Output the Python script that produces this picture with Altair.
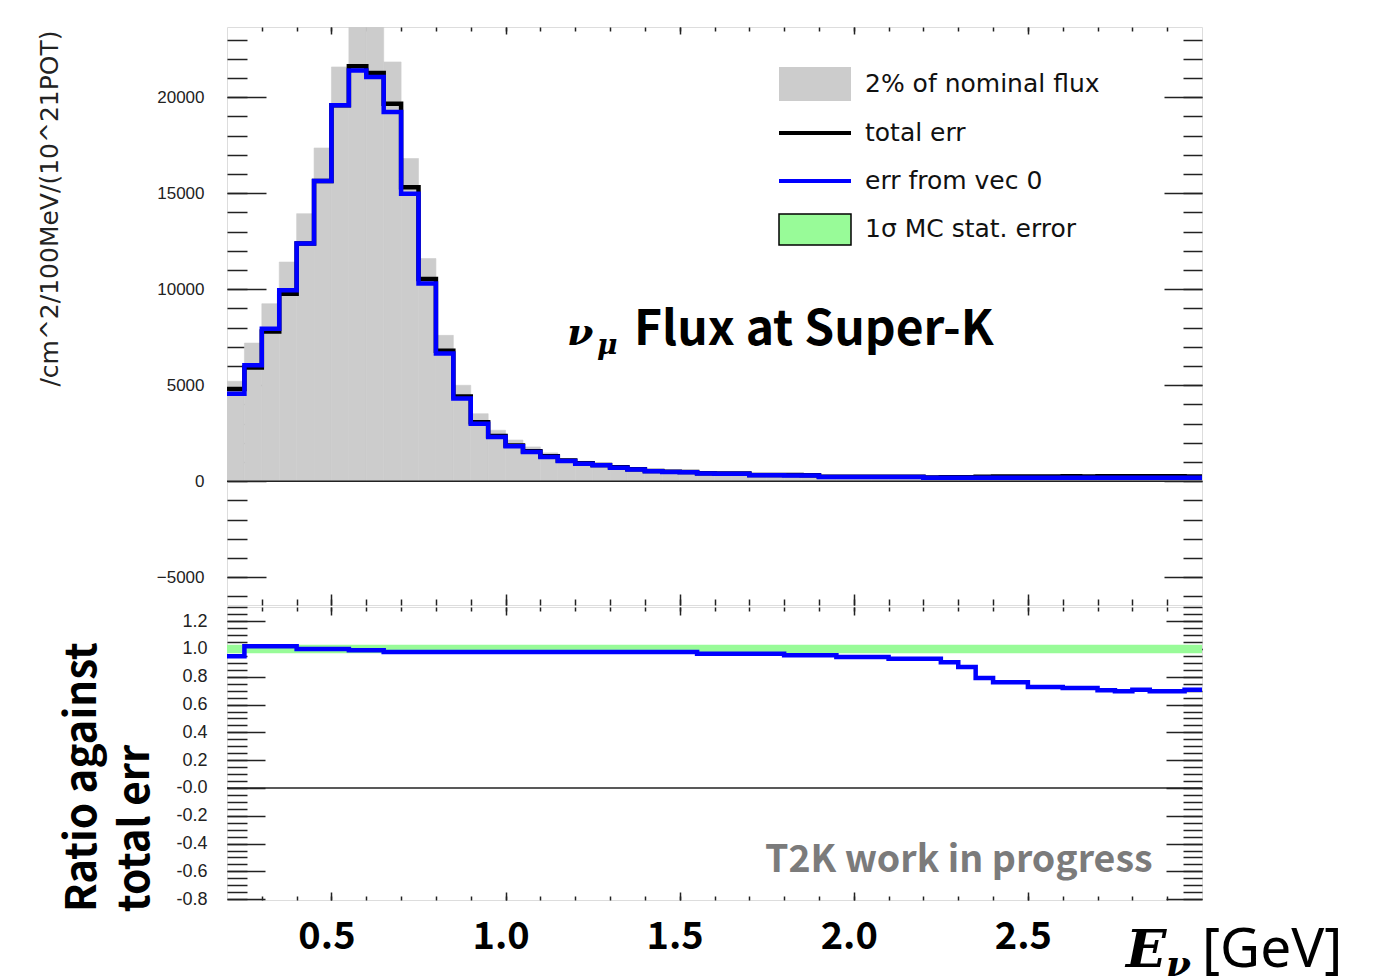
import altair as alt
import pandas as pd

# ---------------- data ----------------
bin_lo = [0.20, 0.25, 0.30, 0.35, 0.40, 0.45, 0.50, 0.55, 0.60, 0.65,
          0.70, 0.75, 0.80, 0.85, 0.90, 0.95, 1.00, 1.05, 1.10, 1.15,
          1.20, 1.25, 1.30, 1.35, 1.40, 1.45, 1.50, 1.55, 1.60, 1.65,
          1.70, 1.75, 1.80, 1.85, 1.90, 1.95, 2.00, 2.05, 2.10, 2.15,
          2.20, 2.25, 2.30, 2.35, 2.40, 2.45, 2.50, 2.55, 2.60, 2.65,
          2.70, 2.75, 2.80, 2.85, 2.90, 2.95]
x_max = 3.0

nominal_2pct = [5210, 7200, 9250, 11420, 13940, 17360, 21580, 23780, 23750, 21840,
                16810, 11600, 7600, 5000, 3520, 2660, 2150, 1790, 1480, 1180,
                1040, 930, 800, 690, 590, 550, 520, 460, 450, 445,
                360, 355, 355, 350, 265, 265, 262, 260, 260, 258,
                225, 230, 238, 262, 271, 270, 282, 280, 283, 282,
                288, 289, 285, 287, 287, 282]

total_err = [4810, 5930, 7800, 9770, 12380, 15640, 19580, 21620, 21270, 19670,
             15320, 10530, 6800, 4410, 3070, 2360, 1860, 1565, 1300, 1085,
             940, 850, 725, 625, 530, 500, 480, 415, 410, 405,
             325, 323, 322, 320, 241, 242, 239, 236, 237, 234,
             204, 209, 216, 238, 246, 245, 256, 254, 257, 256,
             262, 263, 259, 261, 261, 256]

err_vec0 = [4560, 6040, 7950, 9950, 12380, 15640, 19580, 21400, 21060, 19240,
            14980, 10300, 6650, 4310, 3000, 2310, 1820, 1530, 1270, 1060,
            920, 830, 710, 610, 520, 490, 470, 400, 395, 390,
            315, 312, 308, 305, 230, 228, 225, 222, 220, 218,
            190, 189, 188, 188, 187, 186, 186, 185, 185, 184,
            184, 183, 183, 182, 182, 181]

ratio = [0.947, 1.019, 1.019, 1.019, 1.000, 1.000, 1.000, 0.990, 0.990, 0.978,
         0.978, 0.978, 0.978, 0.978, 0.978, 0.978, 0.978, 0.978, 0.978, 0.978,
         0.978, 0.978, 0.978, 0.978, 0.978, 0.978, 0.978, 0.966, 0.966, 0.966,
         0.966, 0.966, 0.955, 0.955, 0.955, 0.942, 0.942, 0.942, 0.930, 0.930,
         0.930, 0.904, 0.870, 0.791, 0.760, 0.760, 0.727, 0.727, 0.719, 0.719,
         0.703, 0.696, 0.707, 0.696, 0.696, 0.707]

mc_stat_lo, mc_stat_hi = 0.97, 1.03

legend_labels = ["2% of nominal flux", "total err", "err from vec 0", "1\u03c3 MC stat. error"]

x_major = [0.5, 1.0, 1.5, 2.0, 2.5]
x_minor = [round(0.2 + 0.1 * i, 1) for i in range(1, 28)]
y_top_major = [-5000, 0, 5000, 10000, 15000, 20000]
y_top_minor = [-6000 + 1000 * i for i in range(30)]
y_bot_major = [-0.8, -0.6, -0.4, -0.2, 0.0, 0.2, 0.4, 0.6, 0.8, 1.0, 1.2]
y_bot_minor = [round(-0.8 + 0.05 * i, 2) for i in range(43)]

# ---------------- tables ----------------
bin_hi = bin_lo[1:] + [x_max]
df_hist = pd.DataFrame({"lo": bin_lo, "hi": bin_hi, "grey": nominal_2pct})
df_line = pd.DataFrame({
    "x": bin_lo + [x_max],
    "black": total_err + [total_err[-1]],
    "blue": err_vec0 + [err_vec0[-1]],
    "ratio": ratio + [ratio[-1]],
})
df_band = pd.DataFrame({"lo": [bin_lo[0]], "hi": [x_max], "r_lo": [mc_stat_lo], "r_hi": [mc_stat_hi]})
df_zero = pd.DataFrame({"z": [0]})
one = pd.DataFrame({"a": [0]})

W, H1, H2 = 975, 578, 293
TICK = "#222222"

xs = alt.Scale(domain=[0.2, 3.0], nice=False, zero=False)
ys_top = alt.Scale(domain=[-6443, 23661], nice=False, zero=False)
ys_bot = alt.Scale(domain=[-0.806, 1.302], nice=False, zero=False)


def tax(orient, values, size, offset=0):
    return alt.Axis(orient=orient, values=values, tickSize=size, offset=offset,
                    labels=False, domain=False, grid=False, title=None,
                    tickColor=TICK, tickWidth=1.5)


ROOTFONT = "DejaVu Sans"
JPFONT = "Noto Sans CJK JP"

# ---------------- top panel ----------------
grey = alt.Chart(df_hist).mark_rect(color="#cccccc", stroke="#cccccc", strokeWidth=0.6, clip=True).encode(
    x=alt.X("lo:Q", scale=xs, axis=tax("top", x_major, 11, -H1)),
    x2="hi",
    y=alt.Y("grey:Q", scale=ys_top, axis=alt.Axis(
        orient="left", values=y_top_major, format="d", ticks=False, domain=False, grid=False,
        labelPadding=23, labelFontSize=17, labelFont="Liberation Sans", labelColor="#222",
        title="/cm^2/100MeV/(10^21POT)", titleX=-178, titleY=3, titleAngle=270,
        titleAlign="right", titleBaseline="middle", titleFont=ROOTFONT, titleFontSize=25,
        titleFontWeight="normal", titleColor="#222")),
    y2=alt.datum(0),
)

zero_top = alt.Chart(df_zero).mark_rule(color="#222", strokeWidth=1.5).encode(
    y=alt.Y("z:Q", scale=ys_top, axis=None))

black = alt.Chart(df_line).mark_line(interpolate="step-after", color="black", strokeWidth=4.5,
                                      strokeJoin="miter").encode(
    x=alt.X("x:Q", scale=xs, axis=tax("top", x_minor, 6, -H1)),
    y=alt.Y("black:Q", scale=ys_top, axis=tax("right", y_top_major, 39, -W)),
)
blue = alt.Chart(df_line).mark_line(interpolate="step-after", color="#0000ff", strokeWidth=4.5,
                                     strokeJoin="miter").encode(
    x=alt.X("x:Q", scale=xs, axis=tax("bottom", x_major, 7, -H1)),
    y=alt.Y("blue:Q", scale=ys_top, axis=tax("right", y_top_minor, 20, -W)),
)
inv1 = alt.Chart(df_line).mark_point(opacity=0).encode(
    x=alt.X("x:Q", scale=xs, axis=tax("bottom", x_minor, 4, -H1)),
    y=alt.Y("blue:Q", scale=ys_top, axis=tax("left", y_top_major, 38, -W)),
)
inv2 = alt.Chart(df_line).mark_point(opacity=0).encode(
    x=alt.X("x:Q", scale=xs, axis=None),
    y=alt.Y("blue:Q", scale=ys_top, axis=tax("left", y_top_minor, 19, -W)),
)

# legend (drawn inside the frame)
leg = []
leg.append(alt.Chart(one).mark_rect(color="#cccccc").encode(
    x=alt.value(552), x2=alt.value(624), y=alt.value(40), y2=alt.value(74)))
leg.append(alt.Chart(one).mark_rule(color="black", strokeWidth=4).encode(
    x=alt.value(552), x2=alt.value(624), y=alt.value(106)))
leg.append(alt.Chart(one).mark_rule(color="#0000ff", strokeWidth=4).encode(
    x=alt.value(552), x2=alt.value(624), y=alt.value(154)))
leg.append(alt.Chart(one).mark_rect(color="#98fb98", stroke="black", strokeWidth=1.5).encode(
    x=alt.value(552), x2=alt.value(624), y=alt.value(187), y2=alt.value(218)))
for lab, yy in zip(legend_labels, [57, 106, 154, 202]):
    leg.append(alt.Chart(one).mark_text(text=lab, font=ROOTFONT, fontSize=25, color="#111",
                                         align="left", baseline="middle").encode(
        x=alt.value(638), y=alt.value(yy)))

title_parts = [
    alt.Chart(one).mark_text(text="\u03bd", font="DejaVu Serif", fontStyle="italic", fontWeight="bold",
                             fontSize=38, color="black", align="left", baseline="alphabetic").encode(
        x=alt.value(340), y=alt.value(318)),
    alt.Chart(one).mark_text(text="\u03bc", font="DejaVu Serif", fontStyle="italic", fontWeight="bold",
                             fontSize=28, color="black", align="left", baseline="alphabetic").encode(
        x=alt.value(370), y=alt.value(327)),
    alt.Chart(one).mark_text(text="Flux at Super-K", font=JPFONT, fontWeight="bold",
                             fontSize=48, color="black", align="left", baseline="alphabetic").encode(
        x=alt.value(407), y=alt.value(318)),
]

top = alt.layer(grey, zero_top, black, blue, inv1, inv2, *leg, *title_parts).resolve_axis(
    x="independent", y="independent").properties(width=W, height=H1)

# ---------------- bottom panel ----------------
band = alt.Chart(df_band).mark_rect(color="#98fb98").encode(
    x=alt.X("lo:Q", scale=xs, axis=alt.Axis(
        orient="bottom", values=x_major, format=".1f", ticks=False, domain=False, grid=False,
        labelPadding=18, labelOffset=-5, labelFont=JPFONT, labelFontWeight="bold", labelFontSize=38,
        labelColor="black", title=None)),
    x2="hi",
    y=alt.Y("r_lo:Q", scale=ys_bot, axis=alt.Axis(
        orient="left", values=y_bot_major, ticks=False, domain=False, grid=False,
        labelExpr="datum.value == 0 ? '-0.0' : replace(format(datum.value, '.1f'), '\u2212', '-')",
        labelPadding=20, labelFontSize=18, labelFont="Liberation Sans", labelColor="#222", title=None)),
    y2="r_hi",
)
zero_bot = alt.Chart(df_zero).mark_rule(color="#222", strokeWidth=1.5).encode(
    y=alt.Y("z:Q", scale=ys_bot, axis=tax("right", y_bot_major, 38, -W)))
rline = alt.Chart(df_line).mark_line(interpolate="step-after", color="#0000ff", strokeWidth=4.5,
                                      strokeJoin="miter").encode(
    x=alt.X("x:Q", scale=xs, axis=tax("bottom", x_major, 8, -H2)),
    y=alt.Y("ratio:Q", scale=ys_bot, axis=tax("right", y_bot_minor, 20, -W)),
)
binv1 = alt.Chart(df_line).mark_point(opacity=0).encode(
    x=alt.X("x:Q", scale=xs, axis=tax("bottom", x_minor, 4, -H2)),
    y=alt.Y("ratio:Q", scale=ys_bot, axis=tax("left", y_bot_major, 36, -W)),
)
binv2 = alt.Chart(df_line).mark_point(opacity=0).encode(
    x=alt.X("x:Q", scale=xs, axis=tax("top", x_major, 8, -H2)),
    y=alt.Y("ratio:Q", scale=ys_bot, axis=tax("left", y_bot_minor, 19, -W)),
)
binv3 = alt.Chart(df_line).mark_point(opacity=0).encode(
    x=alt.X("x:Q", scale=xs, axis=tax("top", x_minor, 4, -H2)),
    y=alt.Y("ratio:Q", scale=ys_bot, axis=None),
)

btexts = [
    alt.Chart(one).mark_text(text="Ratio against", font=JPFONT, fontWeight="bold", fontSize=42,
                             color="black", angle=270, align="left", baseline="middle").encode(
        x=alt.value(-144), y=alt.value(305)),
    alt.Chart(one).mark_text(text="total err", font=JPFONT, fontWeight="bold", fontSize=42,
                             color="black", angle=270, align="left", baseline="middle").encode(
        x=alt.value(-91), y=alt.value(305)),
    alt.Chart(one).mark_text(text="T2K work in progress", font=JPFONT, fontWeight="bold", fontSize=37.5,
                             color="#7b7b7b", align="left", baseline="alphabetic").encode(
        x=alt.value(538), y=alt.value(265)),
    alt.Chart(one).mark_text(text="E", font="DejaVu Serif", fontStyle="italic", fontWeight="bold",
                             fontSize=53, color="black", align="left", baseline="alphabetic").encode(
        x=alt.value(899), y=alt.value(360)),
    alt.Chart(one).mark_text(text="\u03bd", font="DejaVu Serif", fontStyle="italic", fontWeight="bold",
                             fontSize=36, color="black", align="left", baseline="alphabetic").encode(
        x=alt.value(939), y=alt.value(369)),
    alt.Chart(one).mark_text(text="[GeV]", font="Noto Sans", fontSize=55,
                             color="black", align="left", baseline="alphabetic").encode(
        x=alt.value(975), y=alt.value(360)),
]

bottom = alt.layer(band, zero_bot, rline, binv1, binv2, binv3, *btexts).resolve_axis(
    x="independent", y="independent").properties(width=W, height=H2)

chart = alt.vconcat(top, bottom, spacing=-3).properties(
    padding={"left": 28, "top": 17, "right": 5, "bottom": 0}
).configure_view(stroke="#222", strokeWidth=1.5).configure(background="white")

chart.save("out.html", embed_options={"renderer": "svg", "actions": False})
